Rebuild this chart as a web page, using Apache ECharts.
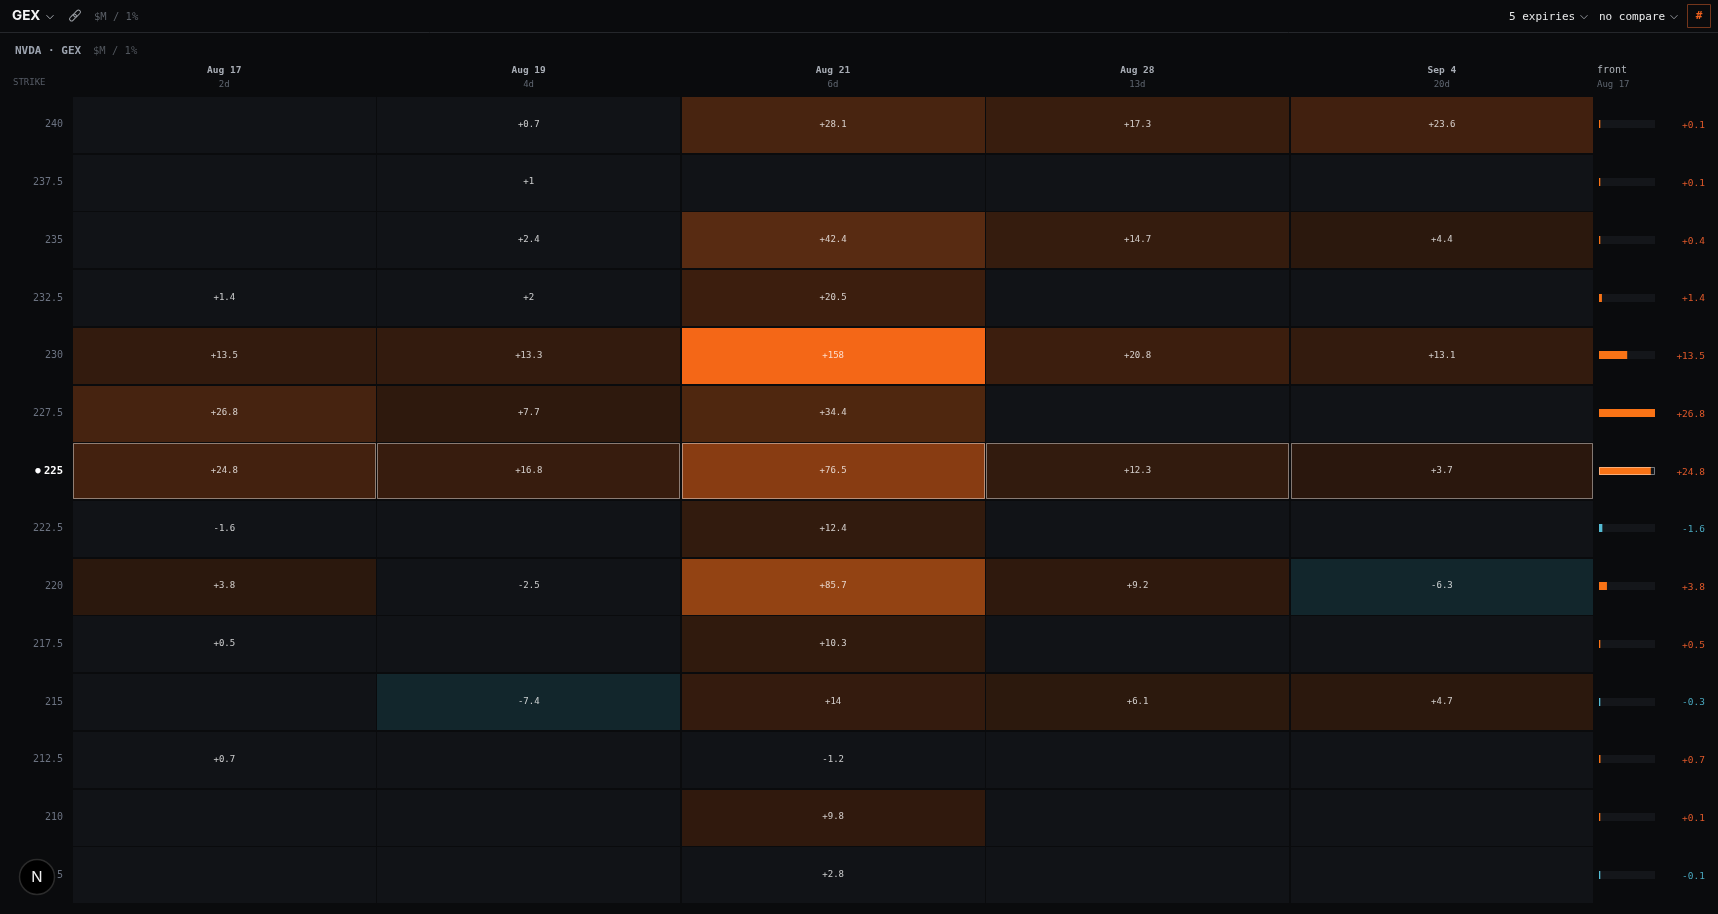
<!DOCTYPE html>
<html>
<head>
<meta charset="utf-8">
<style>html,body{margin:0;padding:0;background:#0a0b0d}#c{width:1718px;height:914px}</style>
<script src="https://cdn.jsdelivr.net/npm/echarts@6/dist/echarts.min.js"></script>
</head>
<body>
<div id="c"></div>
<script>
const strikes = ['240','237.5','235','232.5','230','227.5','225','222.5','220','217.5','215','212.5','210','207.5'];
const spotStrike = '225';
const expiries = ['Aug 17','Aug 19','Aug 21','Aug 28','Sep 4'];
const daysLeft = ['2d','4d','6d','13d','20d'];
const aug17 = [null,null,null,1.4,13.5,26.8,24.8,-1.6,3.8,0.5,null,0.7,null,null];
const aug19 = [0.7,1,2.4,2,13.3,7.7,16.8,null,-2.5,null,-7.4,null,null,null];
const aug21 = [28.1,null,42.4,20.5,158,34.4,76.5,12.4,85.7,10.3,14,-1.2,9.8,2.8];
const aug28 = [17.3,null,14.7,null,20.8,null,12.3,null,9.2,null,6.1,null,null,null];
const sep4  = [23.6,null,4.4,null,13.1,null,3.7,null,-6.3,null,4.7,null,null,null];
const front = [0.1,0.1,0.4,1.4,13.5,26.8,24.8,-1.6,3.8,0.5,-0.3,0.7,0.1,-0.1];

const MONO = '"DejaVu Sans Mono", monospace';
const BASE = [17,19,23];
const STOPS = [[3,[42,23,13]],[6.1,[44,25,13]],[9.2,[47,25,13]],[13.3,[51,27,14]],[20.5,[60,30,14]],[28.1,[72,36,16]],[34.4,[79,39,15]],[42.4,[88,43,18]],[76.5,[136,60,18]],[85.7,[147,67,19]],[158,[244,103,23]]];
const columns = [aug17,aug19,aug21,aug28,sep4];
const fmt = v => (v > 0 ? '+' : '') + v;
function cellColor(v){
  if (v === null || Math.abs(v) < 3) return 'rgb(' + BASE + ')';
  if (v < 0) return '#12262c';
  for (let i = 1; i < STOPS.length; i++){
    if (v <= STOPS[i][0]){
      const a = STOPS[i-1], b = STOPS[i], t = (v-a[0])/(b[0]-a[0]);
      return 'rgb(' + a[1].map((c,k)=>Math.round(c+(b[1][k]-c)*t)) + ')';
    }
  }
  return 'rgb(' + STOPS[STOPS.length-1][1] + ')';
}
const cells = [];
columns.forEach((col,x)=>col.forEach((v,y)=>cells.push([x,y,v])));
const frontMax = Math.max(...front.map(Math.abs));
const frontData = front.map((v,y)=>[Math.abs(v),y]);

function renderCell(params, api){
  const x = api.value(0), y = api.value(1), v = cells[params.dataIndex][2];
  const c = api.coord([x,y]), s = api.size([1,1]), g = 1.7;
  const hi = strikes[y] === spotStrike;
  const x0 = Math.round(c[0]-s[0]/2), y0 = Math.round(c[1]-s[1]/2);
  const x1 = Math.round(c[0]+s[0]/2-g), y1 = Math.round(c[1]+s[1]/2-g);
  const kids = [{type:'rect',shape:{x:x0,y:y0,width:x1-x0,height:y1-y0},style:{fill:cellColor(v)}}];
  if (hi) kids.push({type:'rect',shape:{x:x0+0.5,y:y0+0.5,width:x1-x0-1,height:y1-y0-1},
    style:{fill:'none',stroke:'rgba(255,255,255,0.42)',lineWidth:1}});
  if (v !== null) kids.push({type:'text',style:{x:c[0]-g/2,y:c[1]-1.5,text:fmt(v),align:'center',verticalAlign:'middle',
    font:'9px '+MONO,fill:'rgba(255,255,255,0.78)'}});
  return {type:'group',children:kids};
}
function renderFront(params, api){
  const y = api.value(1), v = front[params.dataIndex];
  const p0 = api.coord([0,y]), pm = api.coord([frontMax,y]), pv = api.coord([Math.abs(v),y]);
  const h = 8, top = Math.round(p0[1]-h/2-1.5), hi = strikes[y] === spotStrike;
  const kids = [
    {type:'rect',shape:{x:p0[0],y:top,width:pm[0]-p0[0],height:h},style:{fill:'#14161a'}},
    {type:'rect',shape:{x:p0[0],y:top,width:Math.max(1.3,pv[0]-p0[0]),height:h},style:{fill:v<0?'#55bcd4':'#f97316'}}
  ];
  if (hi) kids.push({type:'rect',shape:{x:p0[0]+0.5,y:top+0.5,width:pm[0]-p0[0]-1,height:h-1},style:{fill:'none',stroke:'rgba(255,255,255,0.42)',lineWidth:1}});
  return {type:'group',children:kids};
}
const T = (x,y,text,font,fill,align) => ({type:'text',x,y,style:{text,font,fill,align:align||'left',verticalAlign:'middle'}});
const chev = (x,y,c) => ({type:'polyline',shape:{points:[[x-3.5,y-1.8],[x,y+1.8],[x+3.5,y-1.8]]},style:{stroke:c,lineWidth:1,fill:'none'}});
const link = (x,y) => ({type:'rect',x,y,rotation:Math.PI/4,shape:{x:-4,y:-2,width:8,height:4,r:2},style:{fill:'none',stroke:'#a0a4aa',lineWidth:1}});

const option = {
  backgroundColor:'#0a0b0d',
  animation:false,
  grid:[{left:73,top:97,width:1522,height:808},{left:1599,top:97,width:56,height:808}],
  xAxis:[
    {type:'category',gridIndex:0,position:'top',data:expiries.map((e,i)=>e+'|'+daysLeft[i]),
     axisLine:{show:false},axisTick:{show:false},splitLine:{show:false},
     axisLabel:{interval:0,margin:5,padding:[0,2,0,0],formatter:v=>{const p=v.split('|');return '{d|'+p[0]+'}\n{s|'+p[1]+'}';},
       rich:{d:{fontFamily:MONO,fontWeight:'bold',fontSize:9.5,color:'#a8adb5',lineHeight:13,align:'center'},
             s:{fontFamily:MONO,fontSize:9,color:'#5f6670',lineHeight:15,align:'center'}}}},
    {type:'value',gridIndex:1,min:0,max:frontMax,show:false}
  ],
  yAxis:[
    {type:'category',gridIndex:0,inverse:true,data:strikes,
     axisLine:{show:false},axisTick:{show:false},splitLine:{show:false},
     axisLabel:{interval:0,margin:10,align:'right',padding:[0,0,2,0],
       formatter:v=>v===spotStrike?'{dot|●} {hi|'+v+'}':'{n|'+v+'}',
       rich:{n:{fontFamily:MONO,fontSize:10,color:'#6b7280'},hi:{fontFamily:MONO,fontWeight:'bold',fontSize:10.5,color:'#ffffff'},dot:{fontFamily:MONO,fontSize:9,color:'#ffffff'}}}},
    {type:'category',gridIndex:1,inverse:true,position:'right',data:front.map(fmt),
     axisLine:{show:false},axisTick:{show:false},splitLine:{show:false},
     axisLabel:{interval:0,margin:50,align:'right',padding:[0,0,2,0],fontFamily:MONO,fontSize:9.5,
       color:(v)=>String(v).charAt(0)==='-'?'#4aa8bf':'#e0592a'}}
  ],
  series:[
    {type:'custom',xAxisIndex:0,yAxisIndex:0,data:cells,encode:{x:0,y:1},renderItem:renderCell,clip:false,silent:true},
    {type:'custom',xAxisIndex:1,yAxisIndex:1,data:frontData,encode:{x:0,y:1},renderItem:renderFront,clip:false,silent:true}
  ],
  graphic:{elements:[
    {type:'line',shape:{x1:0,y1:32.5,x2:1718,y2:32.5},style:{stroke:'#25272b',lineWidth:1}},
    T(12,16,'GEX','700 13.5px Inter','#f4f4f5'),
    chev(50,17,'#a0a4aa'),
    link(73,17.5),link(77,13.5),
    T(94,17,'$M / 1%','10.5px '+MONO,'#5a5f66'),
    T(1509,17,'5 expiries','11px '+MONO,'#e8e9ea'),
    chev(1584,17,'#8a8e94'),
    T(1599,17,'no compare','11px '+MONO,'#e8e9ea'),
    chev(1674,17,'#8a8e94'),
    {type:'rect',shape:{x:1687.5,y:4.5,width:23,height:23},style:{fill:'none',stroke:'#74361c',lineWidth:1}},
    T(1699,16,'#','bold 11px '+MONO,'#f0621f','center'),
    T(15,51,'NVDA · GEX','bold 11px '+MONO,'#9ca3af'),
    T(93,51,'$M / 1%','10.5px '+MONO,'#50555c'),
    T(13,83,'STRIKE','9px '+MONO,'#565c66'),
    T(1597,70,'front','10px '+MONO,'#b0b5bb'),
    T(1597,84.5,'Aug 17','9px '+MONO,'#5f6670'),
    {type:'circle',z:100,shape:{cx:37,cy:877,r:17.5},style:{fill:'#000000',stroke:'#2b2b2b',lineWidth:1.5}},
    {type:'text',z:101,x:37,y:877.5,style:{text:'N',font:'400 15px Inter',fill:'#eeeeee',align:'center',verticalAlign:'middle'}}
  ]}
};
echarts.init(document.getElementById('c'),null,{renderer:'canvas'}).setOption(option);
</script>
</body>
</html>
